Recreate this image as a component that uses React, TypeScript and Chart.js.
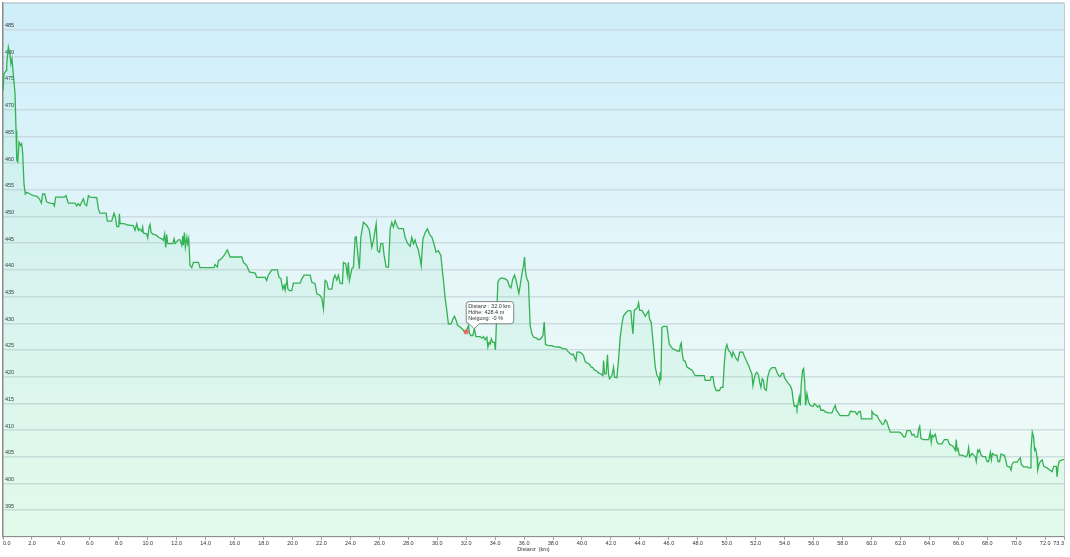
import React, { useEffect, useRef } from "react";
import { Chart, registerables, Tooltip } from "chart.js";

Chart.register(...registerables);

const FONT = "'Liberation Sans', Arial, sans-serif";

const distanceKm = [
  0.00, 0.07, 0.21, 0.26, 0.37, 0.48, 0.55, 0.62, 0.71, 0.83,
  0.90, 0.95, 1.02, 1.11, 1.22, 1.29, 1.36, 1.45, 1.54, 1.64,
  1.87, 2.09, 2.33, 2.51, 2.65, 2.74, 2.88, 3.02, 3.25, 3.48,
  3.55, 3.64, 4.24, 4.35, 4.51, 4.98, 5.09, 5.20, 5.32, 5.44,
  5.55, 5.67, 5.78, 5.90, 6.01, 6.48, 6.59, 6.70, 7.12, 7.21,
  7.51, 7.67, 7.76, 7.86, 8.00, 8.04, 8.09, 8.43, 8.55, 9.00,
  9.12, 9.24, 9.35, 9.42, 9.59, 9.65, 9.70, 9.93, 10.00, 10.09,
  10.16, 10.23, 10.35, 10.50, 10.62, 10.80, 10.97, 11.08, 11.17, 11.24,
  11.31, 11.38, 11.73, 11.82, 11.89, 12.11, 12.23, 12.35, 12.42, 12.46,
  12.53, 12.60, 12.70, 12.76, 12.83, 12.92, 13.04, 13.15, 13.50, 13.61,
  14.58, 14.65, 14.81, 14.88, 15.11, 15.34, 15.50, 15.69, 16.50, 16.61,
  16.84, 17.02, 17.42, 17.53, 18.11, 18.22, 18.33, 18.57, 18.96, 19.07,
  19.19, 19.33, 19.42, 19.49, 19.56, 19.61, 19.68, 19.79, 19.95, 20.06,
  20.53, 20.64, 20.80, 21.22, 21.33, 21.56, 21.68, 21.91, 22.03, 22.14,
  22.25, 22.37, 22.48, 22.72, 22.83, 22.94, 23.06, 23.17, 23.29, 23.45,
  23.52, 23.68, 23.79, 23.86, 23.93, 24.10, 24.21, 24.33, 24.40, 24.49,
  24.62, 24.72, 24.90, 25.14, 25.31, 25.48, 25.59, 25.78, 25.87, 26.01,
  26.10, 26.24, 26.33, 26.47, 26.63, 26.75, 26.86, 26.97, 27.09, 27.21,
  27.32, 27.66, 27.78, 27.94, 28.13, 28.24, 28.36, 28.47, 28.59, 28.70,
  28.82, 28.89, 29.01, 29.17, 29.32, 29.46, 29.63, 29.74, 29.92, 30.08,
  30.25, 30.34, 30.43, 30.55, 30.66, 30.77, 30.96, 31.08, 31.19, 31.31,
  31.40, 31.53, 31.70, 31.86, 32.00, 32.16, 32.23, 32.32, 32.46, 32.57,
  32.67, 32.96, 33.08, 33.19, 33.31, 33.43, 33.50, 33.59, 33.66, 33.73,
  33.84, 33.95, 34.02, 34.12, 34.19, 34.30, 34.46, 34.69, 34.85, 34.99,
  35.09, 35.22, 35.34, 35.45, 35.54, 35.64, 35.73, 35.85, 35.96, 36.03,
  36.10, 36.19, 36.30, 36.42, 36.54, 36.65, 36.84, 37.00, 37.16, 37.30,
  37.39, 37.48, 37.69, 37.92, 38.08, 38.49, 38.68, 38.91, 39.00, 39.14,
  39.30, 39.41, 39.48, 39.58, 39.65, 39.83, 39.94, 40.10, 40.22, 40.38,
  40.52, 40.62, 40.75, 40.84, 41.03, 41.14, 41.31, 41.44, 41.49, 41.56,
  41.67, 41.76, 41.83, 41.90, 42.07, 42.18, 42.25, 42.41, 42.52, 42.64,
  42.76, 42.87, 43.05, 43.21, 43.38, 43.45, 43.52, 43.61, 43.75, 43.84,
  43.91, 43.98, 44.14, 44.25, 44.37, 44.49, 44.60, 44.67, 44.78, 44.90,
  45.06, 45.18, 45.29, 45.36, 45.40, 45.45, 45.52, 45.63, 45.87, 45.94,
  46.03, 46.14, 46.28, 46.44, 46.60, 46.74, 46.79, 46.86, 46.91, 47.01,
  47.13, 47.25, 47.43, 47.60, 47.82, 48.45, 48.51, 48.86, 48.93, 49.05,
  49.14, 49.27, 49.50, 49.60, 49.74, 49.83, 49.92, 50.01, 50.12, 50.24,
  50.36, 50.43, 50.54, 50.66, 50.77, 50.89, 51.12, 51.23, 51.35, 51.51,
  51.63, 51.74, 51.81, 51.90, 51.99, 52.09, 52.20, 52.27, 52.36, 52.45,
  52.54, 52.61, 52.73, 52.82, 52.96, 53.12, 53.35, 53.47, 53.58, 53.70,
  53.81, 53.93, 53.99, 54.11, 54.27, 54.39, 54.51, 54.58, 54.67, 54.80,
  54.85, 54.92, 55.01, 55.08, 55.15, 55.24, 55.31, 55.38, 55.45, 55.54,
  55.65, 55.77, 55.96, 56.05, 56.19, 56.28, 56.41, 56.51, 56.69, 56.81,
  57.04, 57.27, 57.38, 57.50, 57.57, 57.66, 57.84, 58.42, 58.54, 58.88,
  59.00, 59.11, 59.23, 59.30, 59.97, 60.03, 60.15, 60.38, 60.49, 60.61,
  60.73, 60.84, 60.95, 61.07, 61.18, 61.30, 61.94, 62.11, 62.22, 62.33,
  62.45, 62.68, 62.80, 62.91, 63.03, 63.19, 63.26, 63.33, 63.42, 63.60,
  63.95, 64.06, 64.13, 64.20, 64.29, 64.41, 64.53, 64.64, 64.87, 65.03,
  65.26, 65.40, 65.56, 65.67, 65.79, 65.86, 65.91, 65.98, 66.07, 66.26,
  66.41, 66.55, 66.64, 66.71, 66.78, 66.95, 67.06, 67.17, 67.24, 67.33,
  67.40, 67.47, 67.57, 67.71, 67.87, 67.99, 68.09, 68.21, 68.28, 68.35,
  68.49, 68.67, 68.74, 68.85, 68.95, 69.09, 69.18, 69.27, 69.37, 69.55,
  69.64, 69.71, 69.82, 70.06, 70.17, 70.28, 70.35, 70.51, 70.75, 70.86,
  70.98, 71.02, 71.11, 71.20, 71.27, 71.34, 71.44, 71.48, 71.58, 71.67,
  71.79, 71.90, 72.13, 72.31, 72.48, 72.59, 72.77, 72.82, 72.89, 72.96,
  73.17, 73.30,
];

const elevationM = [
  473.5, 476.7, 477.3, 478.6, 481.7, 480.4, 478.6, 479.5, 476.7, 473.0,
  466.1, 460.5, 460.2, 463.9, 463.3, 463.6, 461.8, 456.1, 454.2, 454.5,
  454.2, 453.9, 453.8, 453.3, 452.5, 454.2, 454.2, 452.7, 452.5, 452.4,
  452.0, 453.6, 453.6, 453.9, 452.5, 452.5, 452.0, 452.4, 452.0, 452.7,
  453.3, 452.2, 452.0, 453.9, 453.6, 453.5, 451.4, 450.6, 450.6, 449.1,
  449.1, 450.6, 449.9, 448.1, 448.1, 450.5, 448.7, 448.6, 448.4, 448.3,
  447.4, 448.6, 447.4, 447.7, 447.2, 448.0, 446.9, 446.7, 446.0, 448.0,
  448.5, 447.0, 446.7, 446.6, 446.4, 446.0, 445.8, 445.5, 446.7, 444.2,
  446.6, 444.9, 444.9, 445.8, 444.9, 445.6, 445.6, 444.6, 446.3, 444.6,
  447.0, 444.2, 446.1, 444.9, 445.8, 440.8, 440.4, 441.4, 441.4, 440.4,
  440.4, 441.0, 440.5, 441.7, 442.1, 443.0, 443.7, 442.4, 442.4, 441.4,
  440.8, 439.6, 439.4, 438.6, 438.6, 438.0, 439.0, 440.0, 440.0, 438.6,
  438.4, 436.4, 437.1, 436.2, 437.4, 438.8, 436.4, 436.1, 436.1, 437.5,
  437.5, 438.3, 439.0, 439.0, 437.7, 437.4, 435.5, 435.2, 434.6, 432.7,
  438.0, 437.7, 436.4, 436.4, 438.3, 439.0, 438.1, 439.0, 437.5, 437.4,
  441.4, 441.1, 439.0, 441.4, 438.0, 440.2, 440.5, 446.1, 446.2, 443.6,
  440.2, 446.1, 448.9, 448.3, 447.4, 444.2, 445.5, 448.6, 443.6, 443.3,
  444.9, 444.9, 442.7, 440.5, 440.5, 447.7, 448.9, 448.0, 449.2, 448.3,
  447.7, 447.7, 446.1, 445.0, 444.4, 446.1, 444.9, 445.6, 444.4, 443.7,
  442.0, 440.8, 445.8, 447.0, 447.7, 446.7, 446.1, 445.2, 443.3, 443.6,
  442.7, 440.2, 438.0, 434.6, 432.4, 429.9, 429.9, 430.8, 431.3, 430.5,
  429.6, 429.4, 429.0, 428.5, 428.4, 429.6, 428.1, 427.7, 427.7, 429.0,
  427.5, 427.5, 427.2, 427.5, 426.9, 427.4, 425.5, 426.4, 426.1, 427.1,
  426.4, 426.4, 425.0, 432.4, 437.7, 438.3, 438.5, 438.3, 438.0, 436.9,
  436.6, 438.3, 439.0, 438.0, 436.8, 435.6, 437.1, 439.3, 440.8, 442.4,
  439.6, 438.3, 437.7, 429.6, 428.0, 427.4, 427.2, 426.9, 427.1, 427.7,
  430.2, 426.0, 425.8, 425.8, 425.6, 425.5, 425.2, 425.2, 424.8, 424.4,
  424.1, 424.2, 423.6, 423.0, 424.6, 424.6, 424.4, 424.0, 422.8, 422.5,
  422.3, 421.8, 421.7, 421.3, 421.0, 420.7, 420.5, 420.2, 423.0, 420.5,
  420.5, 424.1, 420.5, 419.6, 420.2, 421.8, 419.9, 419.8, 423.0, 427.4,
  429.9, 431.4, 432.0, 432.4, 432.3, 429.9, 428.0, 432.4, 432.7, 433.0,
  433.8, 432.4, 432.4, 431.9, 431.3, 431.8, 432.3, 430.8, 430.2, 426.8,
  421.8, 420.2, 419.8, 419.0, 420.8, 419.3, 429.2, 429.4, 429.4, 428.0,
  426.1, 425.6, 425.2, 425.0, 424.8, 424.8, 425.8, 426.3, 424.6, 423.0,
  422.9, 421.8, 421.5, 421.2, 420.2, 420.2, 419.3, 419.3, 420.0, 420.0,
  418.3, 417.4, 417.4, 418.0, 418.0, 422.4, 425.2, 426.0, 424.9, 424.6,
  423.7, 424.6, 424.0, 423.3, 423.0, 424.6, 424.6, 423.7, 423.0, 422.1,
  421.2, 420.5, 418.3, 419.6, 420.5, 420.8, 420.2, 419.0, 418.0, 419.6,
  419.3, 417.7, 417.4, 419.8, 421.2, 421.7, 421.7, 420.8, 420.2, 420.0,
  420.6, 420.6, 419.8, 419.3, 418.7, 418.3, 417.4, 415.8, 414.4, 414.6,
  414.0, 414.9, 416.2, 414.6, 418.7, 421.2, 421.5, 419.3, 414.6, 416.8,
  415.2, 414.6, 414.4, 414.9, 414.6, 414.3, 414.6, 413.7, 413.7, 413.4,
  413.2, 413.2, 414.0, 414.6, 413.7, 413.4, 412.7, 412.7, 413.5, 413.4,
  412.9, 413.4, 413.5, 412.1, 412.1, 413.5, 413.0, 412.7, 412.1, 411.6,
  411.1, 411.1, 411.9, 411.5, 410.5, 409.6, 409.6, 409.2, 408.7, 408.7,
  409.9, 409.9, 409.0, 409.2, 408.7, 408.7, 410.2, 410.7, 408.4, 408.2,
  408.2, 409.6, 407.7, 409.0, 408.7, 409.2, 407.7, 407.4, 407.4, 408.2,
  408.2, 407.3, 407.1, 406.8, 406.2, 408.2, 406.2, 406.5, 405.3, 405.3,
  405.1, 405.0, 405.5, 406.7, 405.0, 405.6, 405.3, 405.0, 404.1, 406.2,
  405.9, 406.3, 405.3, 405.0, 405.0, 404.1, 404.1, 405.8, 404.4, 405.6,
  405.3, 405.3, 404.1, 404.1, 405.5, 405.3, 405.3, 404.4, 403.2, 403.1,
  402.5, 403.6, 404.0, 404.0, 404.4, 404.8, 403.6, 403.1, 403.1, 402.9,
  402.9, 406.2, 409.6, 408.7, 406.2, 406.5, 405.0, 402.5, 403.6, 404.1,
  404.4, 403.2, 402.9, 402.5, 402.2, 403.2, 403.2, 401.2, 403.2, 404.1,
  404.4, 404.5,
];

const xTickKm = [
  0, 2, 4, 6, 8, 10, 12, 14, 16, 18, 20, 22, 24, 26, 28, 30, 32, 34, 36,
  38, 40, 42, 44, 46, 48, 50, 52, 54, 56, 58, 60, 62, 64, 66, 68, 70, 72, 73.3,
];
const yMinM = 390;
const yMaxM = 490;
const yStepM = 5;
const tooltipKm = 32.0;
const xTitle = "Distanz  (km)";

(Tooltip.positioners as any).pinned = function (elements: any[]) {
  if (!elements.length) return false;
  const el = elements[0].element;
  return { x: el.x + 8, y: el.y };
};

const backgroundPlugin = {
  id: "profileBackground",
  beforeDraw(chart: any) {
    const { ctx, chartArea: a } = chart;
    ctx.save();
    ctx.fillStyle = "#ffffff";
    ctx.fillRect(0, 0, chart.width, chart.height);
    const g = ctx.createLinearGradient(0, a.top, 0, a.bottom);
    g.addColorStop(0, "rgb(206,238,250)");
    g.addColorStop(0.5, "rgb(229,246,249)");
    g.addColorStop(1, "rgb(240,253,244)");
    ctx.fillStyle = g;
    ctx.fillRect(a.left, a.top, a.right - a.left, a.bottom - a.top);
    ctx.restore();
  },
  beforeDatasetsDraw(chart: any) {
    const { ctx, chartArea: a } = chart;
    ctx.save();
    ctx.strokeStyle = "rgba(185,198,205,0.9)";
    ctx.lineWidth = 1;
    ctx.beginPath();
    ctx.moveTo(a.left, a.top + 0.5);
    ctx.lineTo(a.right + 0.5, a.top + 0.5);
    ctx.lineTo(a.right + 0.5, a.bottom);
    ctx.stroke();
    ctx.restore();
  },
};

export default function App() {
  const ref = useRef<HTMLCanvasElement>(null);

  useEffect(() => {
    document.body.style.margin = "0";
    const points = distanceKm.map((d, i) => ({ x: d, y: elevationM[i] }));

    const chart = new Chart(ref.current as HTMLCanvasElement, {
      type: "line",
      data: {
        datasets: [
          {
            data: points,
            borderColor: "#33b252",
            borderWidth: 1.3,
            backgroundColor: "rgba(70,215,130,0.08)",
            fill: "origin",
            tension: 0,
            pointRadius: 0,
            pointHoverRadius: 2.6,
            pointHoverBackgroundColor: "rgba(240,90,90,0.85)",
            pointHoverBorderColor: "rgba(240,90,90,0.85)",
            pointHoverBorderWidth: 0,
          },
        ],
      },
      plugins: [backgroundPlugin],
      options: {
        animation: false,
        responsive: false,
        devicePixelRatio: 1,
        layout: { padding: { left: -1, right: 6, top: 0, bottom: 4 } },
        interaction: { mode: "nearest", intersect: false },
        scales: {
          x: {
            type: "linear",
            min: 0,
            max: 73.3,
            afterBuildTicks: (scale: any) => {
              scale.ticks = xTickKm.map((v) => ({ value: v }));
            },
            ticks: {
              autoSkip: false,
              maxRotation: 0,
              align: "inner",
              padding: 0,
              color: "#333",
              font: { family: FONT, size: 5.5 },
              callback: (v: any) => Number(v).toFixed(1),
            },
            grid: {
              drawOnChartArea: false,
              drawTicks: true,
              tickLength: 3,
              color: "#9a9a9a",
            },
            border: { display: true, color: "#8f8f8f", width: 1 },
            title: {
              display: true,
              text: xTitle,
              color: "#333",
              font: { family: FONT, size: 5.5 },
              padding: { top: 0, bottom: 0 },
            },
          },
          y: {
            type: "linear",
            min: yMinM,
            max: yMaxM,
            ticks: {
              stepSize: yStepM,
              mirror: true,
              padding: 2,
              labelOffset: -4,
              color: "#333",
              font: { family: FONT, size: 5.5, lineHeight: 0.3 },
              callback: (v: any) => (v === yMinM || v === yMaxM ? "" : String(v)),
            },
            grid: {
              drawTicks: false,
              color: "rgba(195,210,216,0.72)",
              lineWidth: 1.4,
            },
            border: { display: true, color: "#8a8a8a", width: 1.5 },
          },
        },
        plugins: {
          legend: { display: false },
          tooltip: {
            enabled: true,
            animation: false,
            position: "pinned" as any,
            xAlign: "left",
            yAlign: "bottom",
            backgroundColor: "rgba(255,255,255,0.93)",
            borderColor: "rgba(120,120,120,0.9)",
            borderWidth: 1,
            cornerRadius: 3,
            caretSize: 5,
            caretPadding: 3,
            padding: { top: 2, bottom: 2, left: 2, right: 3 },
            bodyColor: "#333",
            bodyFont: { family: FONT, size: 5.5, lineHeight: 1.1 },
            bodySpacing: 0,
            displayColors: false,
            callbacks: {
              title: () => [],
              label: (ctx: any) => {
                const i = ctx.dataIndex;
                const d = ctx.parsed.x;
                const h = ctx.parsed.y;
                const j = Math.max(0, i - 1);
                const dd = (distanceKm[i] - distanceKm[j]) * 1000;
                const slope = dd > 0 ? ((elevationM[i] - elevationM[j]) / dd) * 100 : 0;
                const r = Math.round(slope);
                const s = r === 0 && slope < 0 ? "-0" : String(r);
                return [
                  `Distanz : ${d.toFixed(1)} km`,
                  `Höhe: ${h.toFixed(1)} m`,
                  `Neigung: ${s} %`,
                ];
              },
            },
          },
        },
      },
    } as any);

    const idx = distanceKm.indexOf(tooltipKm);
    const el: any = chart.getDatasetMeta(0).data[idx];
    chart.tooltip?.setActiveElements([{ datasetIndex: 0, index: idx }], { x: el.x, y: el.y });
    chart.setActiveElements([{ datasetIndex: 0, index: idx }]);
    chart.update();

    return () => chart.destroy();
  }, []);

  return (
    <canvas ref={ref} width={1070} height={557} style={{ display: "block" }} />
  );
}
